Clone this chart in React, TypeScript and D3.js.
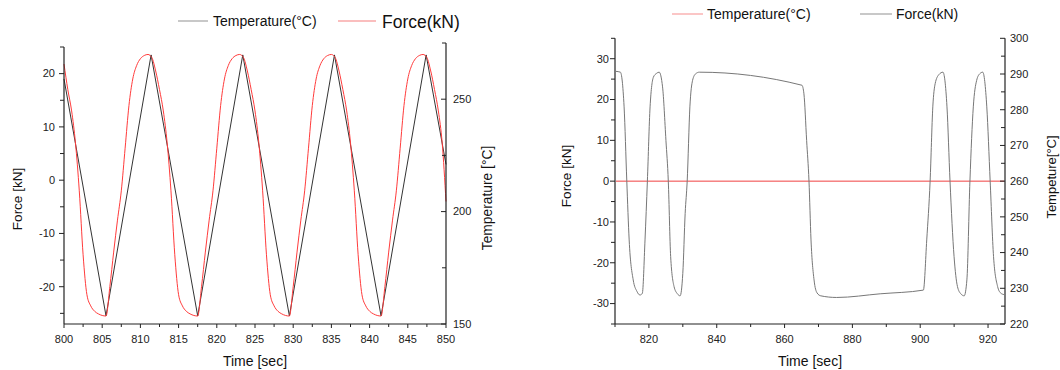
import React from "react";
import * as d3 from "d3";

// ---------- Left panel: cyclic test, 800–850 s ----------
const cycleTimes = [800, 805.5, 811.4, 817.5, 823.4, 829.5, 835.4, 841.5, 847.4, 850];
const cycleTemps = [259, 153.6, 269.7, 153.6, 269.7, 153.6, 269.7, 153.6, 269.7, 221];

const cycleForceStart = 800;
const cycleForceStep = 0.5;
const cycleForce = [
  21.8, 17, 13, 7, -2, -14, -21.5, -23.6, -24.6, -25.1, -25.4,
  -25.5, -20, -13.5, -7.5, -2, 6, 14, 19, 21.5, 22.8, 23.4, 23.6, 23.0, 20.5, 17, 13, 7, -2, -14, -21.5, -23.6, -24.6, -25.1, -25.4,
  -25.5, -20, -13.5, -7.5, -2, 6, 14, 19, 21.5, 22.8, 23.4, 23.6, 23.0, 20.5, 17, 13, 7, -2, -14, -21.5, -23.6, -24.6, -25.1, -25.4,
  -25.5, -20, -13.5, -7.5, -2, 6, 14, 19, 21.5, 22.8, 23.4, 23.6, 23.0, 20.5, 17, 13, 7, -2, -14, -21.5, -23.6, -24.6, -25.1, -25.4,
  -25.5, -20, -13.5, -7.5, -2, 6, 14, 19, 21.5, 22.8, 23.4, 23.6, 23.0, 20.5, 17, 13, 7, -4,
];

const leftTimeTicks = [800, 805, 810, 815, 820, 825, 830, 835, 840, 845, 850];
const leftTimeMinor = [802.5, 807.5, 812.5, 817.5, 822.5, 827.5, 832.5, 837.5, 842.5, 847.5];
const leftForceTicks = [-20, -10, 0, 10, 20];
const leftForceMinor = [-25, -15, -5, 5, 15, 25];
const leftTempTicks = [150, 200, 250];
const leftTempMinor = [175, 225, 275];

// ---------- Right panel: hold / dwell test, 810–925 s ----------
const dwellTimes = [
  810, 811.3, 812.4, 813.2, 813.9, 815.1, 816.2, 817.1, 817.8, 818.6, 819.3, 820.1, 821.1, 822.0, 822.8,
  823.8, 824.8, 825.5, 826.2, 827.2, 828.2, 829.0, 829.8, 830.5, 831.1, 831.9, 832.7, 833.6, 834.7,
  865.1, 865.7, 866.5, 867.2, 867.8, 868.7, 869.6, 870.7, 875.4, 888.3, 901.1,
  902.1, 903.1, 903.9, 904.6, 905.7, 906.9, 908.1, 909.0, 910.2, 911.2, 912.2, 913.2, 914.0, 914.9,
  915.9, 916.9, 917.8, 918.7, 919.9, 920.9, 921.9, 923.1, 924.0, 925,
];
const dwellForce = [
  26.9, 26.7, 18.2, 0, -14.4, -24.2, -27.0, -27.9, -27.5, -14.4, 0, 18.2, 25.5, 26.4, 26.7,
  23.1, 10, 0, -18.5, -25.8, -27.6, -28.1, -22.6, -7.9, 0, 18.2, 24.7, 26.3, 26.7,
  23.5, 21.4, 10, 0, -14.4, -24.2, -27.4, -28.1, -28.5, -27.6, -26.7,
  -14.4, 0, 18.2, 23.9, 26.1, 26.7, 18.2, 0, -18.5, -25.8, -27.6, -28.1, -24.2, 0,
  18.2, 24.7, 26.3, 26.7, 18.2, 0, -18.5, -25.8, -27.4, -27.8,
];
const dwellTempTimes = [810, 925];
const dwellTemp = [260, 260];

const rightTimeTicks = [820, 840, 860, 880, 900, 920];
const rightTimeMinor = [810, 830, 850, 870, 890, 910];
const rightForceTicks = [-30, -20, -10, 0, 10, 20, 30];
const rightForceMinor = [-35, -25, -15, -5, 5, 15, 25, 35];
const rightTempTicks = [220, 230, 240, 250, 260, 270, 280, 290, 300];
const rightTempMinor = [225, 235, 245, 255, 265, 275, 285, 295];

const FONT = "'Liberation Sans', Arial, Helvetica, sans-serif";
const AXIS = "#222";

type Scale = d3.ScaleLinear<number, number>;

function BottomAxis({ x, y, ticks, minor }: { x: Scale; y: number; ticks: number[]; minor: number[] }) {
  const [r0, r1] = x.range();
  return (
    <g>
      <line x1={r0} x2={r1} y1={y} y2={y} stroke={AXIS} strokeWidth={1.2} />
      {ticks.map((t) => (
        <g key={"M" + t}>
          <line x1={x(t)} x2={x(t)} y1={y} y2={y + 4} stroke={AXIS} strokeWidth={1} />
          <text x={x(t)} y={y + 19} textAnchor="middle" fontSize={11} fill={AXIS}>
            {t}
          </text>
        </g>
      ))}
      {minor.map((t) => (
        <line key={"m" + t} x1={x(t)} x2={x(t)} y1={y} y2={y + 3} stroke={AXIS} strokeWidth={1} />
      ))}
    </g>
  );
}

function VAxis({
  s, x, ticks, minor, side, top, labelGap,
}: { s: Scale; x: number; ticks: number[]; minor: number[]; side: "left" | "right"; top: number; labelGap: number }) {
  const bottom = s.range()[0];
  // both axes draw their ticks pointing to the left
  const dir = -1;
  return (
    <g>
      <line x1={x} x2={x} y1={top} y2={bottom} stroke={AXIS} strokeWidth={1.2} />
      {ticks.map((t) => (
        <g key={"M" + t}>
          <line x1={x} x2={x + dir * 5} y1={s(t)} y2={s(t)} stroke={AXIS} strokeWidth={1} />
          <text
            x={side === "left" ? x - labelGap : x + labelGap}
            y={s(t)}
            dy="0.35em"
            textAnchor={side === "left" ? "end" : "start"}
            fontSize={11}
            fill={AXIS}
          >
            {t}
          </text>
        </g>
      ))}
      {minor.map((t) => (
        <line key={"m" + t} x1={x} x2={x + dir * 4} y1={s(t)} y2={s(t)} stroke={AXIS} strokeWidth={1} />
      ))}
    </g>
  );
}

function LeftPanel() {
  const x = d3.scaleLinear().domain([800, 850]).range([64, 446]);
  const yF = d3.scaleLinear().domain([-27, 25]).range([324, 47]);
  const yT = d3.scaleLinear().domain([150, 275]).range([324, 43]);

  const forcePts = cycleForce.map((v, i) => [cycleForceStart + i * cycleForceStep, v] as [number, number]);
  const forceLine = d3
    .line<[number, number]>()
    .x((d) => x(d[0]))
    .y((d) => yF(d[1]))
    .curve(d3.curveMonotoneX);
  const tempLine = d3
    .line<number>()
    .x((_, i) => x(cycleTimes[i]))
    .y((d) => yT(d));

  return (
    <g>
      <path d={tempLine(cycleTemps) || ""} fill="none" stroke="#333" strokeWidth={1} />
      <path d={forceLine(forcePts) || ""} fill="none" stroke="#ff3b3b" strokeWidth={1} />

      <VAxis s={yF} x={64} ticks={leftForceTicks} minor={leftForceMinor} side="left" top={47} labelGap={9} />
      <VAxis s={yT} x={446} ticks={leftTempTicks} minor={leftTempMinor} side="right" top={43} labelGap={7} />
      <BottomAxis x={x} y={324} ticks={leftTimeTicks} minor={leftTimeMinor} />

      <text x={255} y={366} textAnchor="middle" fontSize={14} fill="#111">
        Time [sec]
      </text>
      <text transform="translate(22,199) rotate(-90)" textAnchor="middle" fontSize={13.5} fill="#111">
        Force [kN]
      </text>
      <text transform="translate(492,198) rotate(-90)" textAnchor="middle" fontSize={13.8} fill="#111">
        Temperature [°C]
      </text>

      {/* legend */}
      <line x1={178} x2={208} y1={21} y2={21} stroke="#aaa" strokeWidth={1.3} />
      <text x={213} y={21} dy="0.35em" fontSize={14} fill="#111">
        Temperature(°C)
      </text>
      <line x1={338} x2={376} y1={21} y2={21} stroke="#f9a8a8" strokeWidth={1.3} />
      <text x={382} y={22} dy="0.35em" fontSize={17.5} fill="#111">
        Force(kN)
      </text>
    </g>
  );
}

function RightPanel() {
  const x = d3.scaleLinear().domain([810, 925]).range([616, 1004]);
  const yF = d3.scaleLinear().domain([-35, 35]).range([324, 38.3]);
  const yT = d3.scaleLinear().domain([220, 300]).range([324, 38.3]);

  const forceLine = d3
    .line<number>()
    .x((_, i) => x(dwellTimes[i]))
    .y((d) => yF(d))
    .curve(d3.curveMonotoneX);
  const tempLine = d3
    .line<number>()
    .x((_, i) => x(dwellTempTimes[i]))
    .y((d) => yT(d));

  return (
    <g>
      <path d={tempLine(dwellTemp) || ""} fill="none" stroke="#f04040" strokeWidth={1} />
      <path d={forceLine(dwellForce) || ""} fill="none" stroke="#777" strokeWidth={1} />

      <VAxis s={yF} x={615} ticks={rightForceTicks} minor={rightForceMinor} side="left" top={38.3} labelGap={6} />
      <VAxis s={yT} x={1005} ticks={rightTempTicks} minor={rightTempMinor} side="right" top={38.3} labelGap={5} />
      <BottomAxis x={d3.scaleLinear().domain([810, 925]).range([615, 1005])} y={324} ticks={rightTimeTicks} minor={rightTimeMinor} />

      <text x={810} y={366} textAnchor="middle" fontSize={14} fill="#111">
        Time [sec]
      </text>
      <text transform="translate(571,176) rotate(-90)" textAnchor="middle" fontSize={13.5} fill="#111">
        Force [kN]
      </text>
      <text transform="translate(1056,177) rotate(-90)" textAnchor="middle" fontSize={13} fill="#111">
        Tempeture[°C]
      </text>

      {/* legend */}
      <line x1={672} x2={703} y1={14} y2={14} stroke="#f9a8a8" strokeWidth={1.3} />
      <text x={707} y={14} dy="0.35em" fontSize={14} fill="#111">
        Temperature(°C)
      </text>
      <line x1={860} x2={892} y1={14} y2={14} stroke="#aaa" strokeWidth={1.3} />
      <text x={896} y={14} dy="0.35em" fontSize={14} fill="#111">
        Force(kN)
      </text>
    </g>
  );
}

export default function App() {
  return (
    <svg
      width={1060}
      height={370}
      viewBox="0 0 1060 370"
      style={{ position: "absolute", left: 0, top: 0, background: "#fff", fontFamily: FONT }}
    >
      <rect width={1060} height={370} fill="#fff" />
      <LeftPanel />
      <RightPanel />
    </svg>
  );
}
